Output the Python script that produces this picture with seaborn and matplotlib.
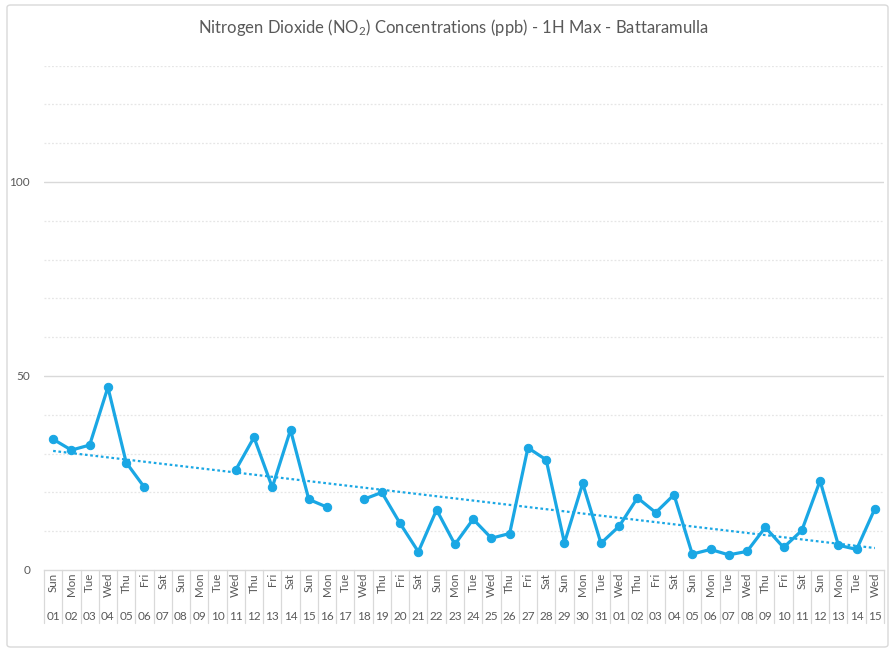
import numpy as np
import pandas as pd
import matplotlib
matplotlib.use("Agg")
import matplotlib.pyplot as plt
from matplotlib.patches import FancyBboxPatch
import seaborn as sns

sns.set_theme(style="white")
plt.rcParams['font.family'] = ['Lato', 'DejaVu Sans']
plt.rcParams['mathtext.fontset'] = 'custom'
plt.rcParams['mathtext.rm'] = 'Lato'
plt.rcParams['mathtext.it'] = 'Lato'

# ---- data ----
day_names = ["Sun", "Mon", "Tue", "Wed", "Thu", "Fri", "Sat", "Sun", "Mon", "Tue",
             "Wed", "Thu", "Fri", "Sat", "Sun", "Mon", "Tue", "Wed", "Thu", "Fri",
             "Sat", "Sun", "Mon", "Tue", "Wed", "Thu", "Fri", "Sat", "Sun", "Mon",
             "Tue", "Wed", "Thu", "Fri", "Sat", "Sun", "Mon", "Tue", "Wed", "Thu",
             "Fri", "Sat", "Sun", "Mon", "Tue", "Wed"]
dates = ["01", "02", "03", "04", "05", "06", "07", "08", "09", "10",
         "11", "12", "13", "14", "15", "16", "17", "18", "19", "20",
         "21", "22", "23", "24", "25", "26", "27", "28", "29", "30",
         "31", "01", "02", "03", "04", "05", "06", "07", "08", "09",
         "10", "11", "12", "13", "14", "15"]
no2 = [33.7, 30.9, 32.2, 47.1, 27.7, 21.3, np.nan, np.nan, np.nan, np.nan,
       25.8, 34.2, 21.3, 36.1, 18.2, 16.2, np.nan, 18.2, 20.0, 12.0,
       4.7, 15.5, 6.6, 13.1, 8.2, 9.4, 31.5, 28.4, 7.0, 22.3,
       6.9, 11.3, 18.6, 14.8, 19.4, 4.1, 5.3, 3.9, 4.8, 11.0,
       5.8, 10.2, 23.0, 6.4, 5.3, 15.8]

title = "Nitrogen Dioxide (NO$_2$) Concentrations (ppb) - 1H Max - Battaramulla"
line_color = "#1aa7e4"
text_color = "#595959"
grid_color = "#d9d9d9"

n = len(no2)
df = pd.DataFrame({"idx": np.arange(n), "val": no2})
df["seg"] = df["val"].isna().cumsum()
valid = df.dropna()

W, H = 891, 652
fig = plt.figure(figsize=(W / 100, H / 100), dpi=100)
fig.patch.set_facecolor("white")

# chart border
fig.patches.append(FancyBboxPatch((7 / W, 5 / H), (888 - 7) / W, (647 - 5) / H,
                                  boxstyle="round,pad=0,rounding_size=0.004",
                                  transform=fig.transFigure, facecolor="none",
                                  edgecolor=grid_color, linewidth=1.0))

left, right = 44 / W, 884 / W
bottom = (H - 570) / H
top = (H - 65.6) / H
ax = fig.add_axes([left, bottom, right - left, top - bottom])

ymax = 130
ax.set_ylim(0, ymax)
ax.set_xlim(-0.5, n - 0.5)

# gridlines
for v in range(10, ymax + 1, 10):
    if v % 50 == 0:
        ax.axhline(v, color=grid_color, lw=1.0, zorder=0)
    else:
        ax.axhline(v, color="#e6e6e6", lw=0.9, ls=(0, (1.5, 1.5)), zorder=0)

sns.lineplot(data=valid, x="idx", y="val", units="seg", estimator=None,
             color=line_color, lw=2.3, marker="o", markersize=6,
             markeredgecolor=line_color, ax=ax, zorder=3, legend=False)

sns.regplot(data=valid, x="idx", y="val", scatter=False, ci=None, ax=ax,
            color=line_color, line_kws=dict(ls=(0, (1.2, 1.2)), lw=1.6, zorder=2))

# axes styling
for s in ["top", "right", "left"]:
    ax.spines[s].set_visible(False)
ax.spines["bottom"].set_color(grid_color)
ax.spines["bottom"].set_linewidth(1.0)
ax.set_xlabel("")
ax.set_ylabel("")
ax.set_yticks([0, 50, 100])
ax.set_yticklabels(["0", "50", "100"], color=text_color, fontsize=8.5)
ax.tick_params(axis="y", length=0, pad=10)
ax.set_xticks([])

# category table under the axis
trans = ax.get_xaxis_transform()
px = (ax.get_position().height * H)
sep_bottom = -(623 - 570) / px
for i in range(n + 1):
    ax.plot([i - 0.5, i - 0.5], [0, sep_bottom], transform=trans,
            color=grid_color, lw=0.9, clip_on=False)
for i in range(n):
    ax.text(i, -(573 - 570) / px, day_names[i], transform=trans, rotation=90,
            ha="center", va="top", fontsize=8.3, color=text_color)
    ax.text(i, -(617 - 570) / px, dates[i], transform=trans,
            ha="center", va="center", fontsize=8.5, color=text_color)

fig.text(453 / W, 1 - 28 / H, title, ha="center", va="center",
         fontsize=12, color=text_color)

fig.savefig("out.png", dpi=100)
